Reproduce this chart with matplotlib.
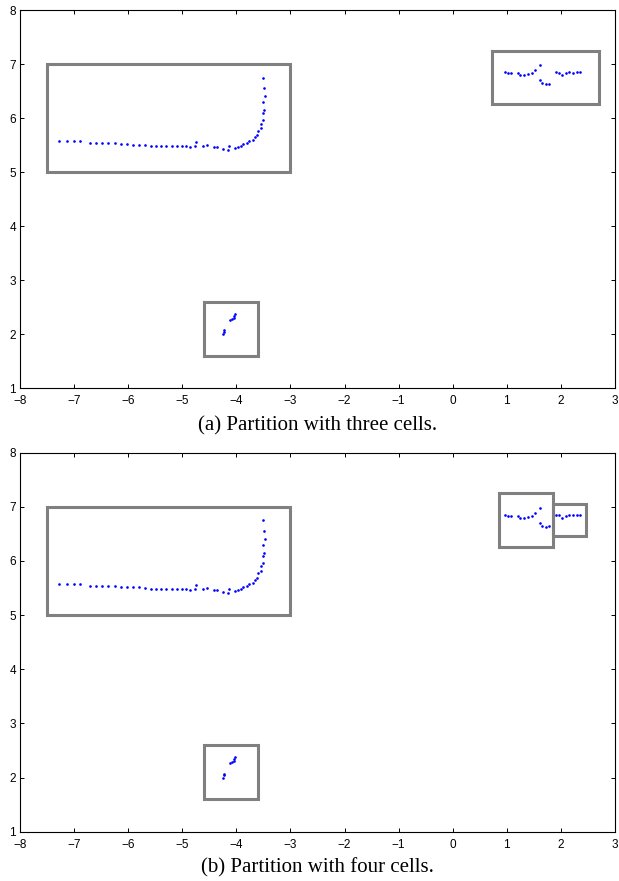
import numpy as np
import matplotlib
matplotlib.use('Agg')
import matplotlib.pyplot as plt
from matplotlib.patches import Rectangle

# Trajectory points, same in both panels
left_x = [-7.27, -7.14, -7.01, -6.89, -6.71, -6.60, -6.48, -6.37, -6.25, -6.14,
          -6.03, -5.91, -5.80, -5.69, -5.58, -5.49, -5.39, -5.30, -5.19, -5.10,
          -5.01, -4.93, -4.85, -4.77, -4.75, -4.61, -4.54, -4.42, -4.35, -4.24,
          -4.16, -4.13, -4.03, -3.97, -3.92, -3.87, -3.80, -3.76, -3.70, -3.66,
          -3.61, -3.60, -3.55, -3.55, -3.51, -3.51, -3.48, -3.50, -3.47, -3.48,
          -3.51]
left_y = [5.58, 5.57, 5.57, 5.58, 5.53, 5.53, 5.53, 5.53, 5.53, 5.52,
          5.52, 5.51, 5.51, 5.50, 5.49, 5.49, 5.48, 5.48, 5.48, 5.48,
          5.48, 5.48, 5.47, 5.49, 5.56, 5.48, 5.50, 5.46, 5.46, 5.43,
          5.41, 5.48, 5.44, 5.47, 5.49, 5.52, 5.54, 5.58, 5.60, 5.65,
          5.68, 5.77, 5.81, 5.90, 5.96, 6.09, 6.15, 6.30, 6.40, 6.55,
          6.75]

right_x = [0.97, 1.02, 1.08, 1.21, 1.25, 1.32, 1.39, 1.46, 1.53, 1.62,
           1.61, 1.66, 1.72, 1.78, 1.91, 1.96, 2.02, 2.09, 2.15, 2.23,
           2.30, 2.36]
right_y = [6.85, 6.83, 6.83, 6.83, 6.79, 6.79, 6.82, 6.83, 6.89, 6.98,
           6.70, 6.65, 6.63, 6.64, 6.85, 6.84, 6.79, 6.83, 6.85, 6.84,
           6.85, 6.85]

low_x = [-4.24, -4.22, -4.22, -4.11, -4.08, -4.05, -4.04, -4.03]
low_y = [2.00, 2.04, 2.07, 2.27, 2.28, 2.30, 2.34, 2.37]

# Cells: (xmin, xmax, ymin, ymax)
cells_a = [(-7.5, -3.0, 5.0, 7.0), (-4.6, -3.6, 1.6, 2.6), (0.72, 2.70, 6.27, 7.25)]
cells_b = [(-7.5, -3.0, 5.0, 7.0), (-4.6, -3.6, 1.6, 2.6),
           (0.85, 1.85, 6.25, 7.25), (1.85, 2.46, 6.46, 7.05)]

captions = ['(a) Partition with three cells.', '(b) Partition with four cells.']
x_ticks = list(range(-8, 4))
y_ticks = list(range(1, 9))

fig = plt.figure(figsize=(6.19, 8.81), dpi=100)
positions = [[0.0323, 0.5593, 0.9612, 0.4293], [0.0323, 0.0560, 0.9612, 0.4302]]
cap_y = [0.5165, 0.0150]

for pos, cells, cap, cy in zip(positions, [cells_a, cells_b], captions, cap_y):
    ax = fig.add_axes(pos)
    for xs, ys in [(left_x, left_y), (right_x, right_y), (low_x, low_y)]:
        ax.plot(xs, ys, 'o', color='#0000ff', markersize=1.9, markeredgewidth=0)
    for x0, x1, y0, y1 in cells:
        ax.add_patch(Rectangle((x0, y0), x1 - x0, y1 - y0, fill=False,
                               edgecolor='#808080', linewidth=2.2))
    ax.set_xlim(-8, 3)
    ax.set_ylim(1, 8)
    ax.set_xticks(x_ticks)
    ax.set_yticks(y_ticks)
    ax.set_xticklabels([str(t).replace('-', '\u2212') for t in x_ticks],
                       family='Liberation Sans', fontsize=8.5)
    ax.set_yticklabels([str(t) for t in y_ticks], family='Liberation Sans', fontsize=8.5)
    ax.tick_params(direction='in', top=True, right=True, length=3, width=0.7)
    ax.tick_params(axis='x', pad=5)
    ax.tick_params(axis='y', pad=3)
    for s in ax.spines.values():
        s.set_linewidth(0.8)
    fig.text(pos[0] + pos[2] / 2, cy, cap, ha='center', va='center',
             family='Liberation Serif', fontsize=15)

fig.savefig('out.png', dpi=100)
